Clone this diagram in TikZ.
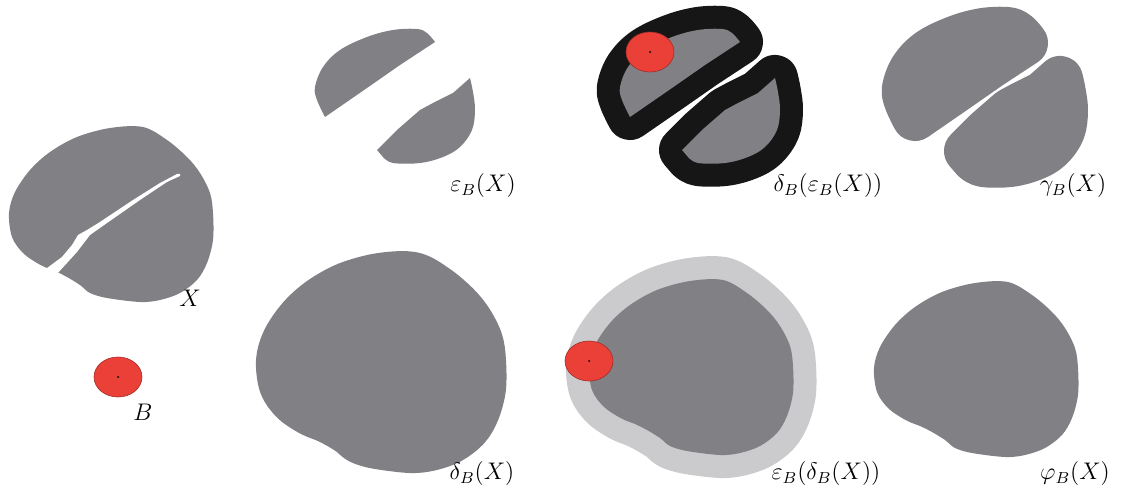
\documentclass[tikz,border=0pt]{standalone}
\usetikzlibrary{positioning}

\definecolor{setgray}{RGB}{128,128,133}
\definecolor{ringgray}{RGB}{203,203,205}
\definecolor{probered}{RGB}{234,64,56}
\definecolor{ringblack}{RGB}{22,22,22}

% the set X (outline only, crack drawn on top)
\newcommand\blobX{plot[smooth cycle, tension=0.55] coordinates {(143,127) (167,140) (187,157) (200,173) (210,193) (213,213) (213,240) (207,263) (197,280) (180,293) (160,300) (140,302) (107,298) (90,293) (80,285) (67,277) (55,271) (47,268) (37,263) (23,253) (12,237) (9,213) (15,192) (30,170) (50,152) (77,137) (110,128)}}
\newcommand\crackX{(43,271) -- (62,257) -- (72,245) -- (78,235) -- (87,230) -- (100,222) -- (133,200) -- (160,183) -- (177,174) -- (180,174) -- (180,176) -- (167,182) -- (140,200) -- (107,223) -- (90,235) -- (77,252) -- (67,263) -- (57,274) -- cycle}
% the two pieces left after erosion
\newcommand\pieceA{plot[smooth, tension=0.6] coordinates {(325,117) (317,100) (315,87) (323,67) (340,50) (367,37) (393,30) (417,29) (427,33) (435,42)} -- (400,65) -- (367,88) -- cycle}
\newcommand\pieceB{plot[smooth, tension=0.6] coordinates {(470,78) (473,92) (475,110) (472,130) (460,147) (443,157) (420,163) (393,163) (383,157)} -- (377,150) -- (397,130) -- (420,110) -- (433,103) -- (453,93) -- cycle}

\begin{document}
\begin{tikzpicture}[
    x=0.5pt, y=-0.5pt,
    swell/.style={line width=23pt, line join=round},
    probe/.style={fill=probered, draw=probered!70!black, line width=0.3pt,
                  x radius=12pt, y radius=10pt},
    lbl/.style={font=\large, inner sep=0pt},
]
\useasboundingbox (0,0) rectangle (1121,492);

% X and B
\fill[setgray] \blobX;
\fill[white] \crackX;
\node[lbl] (lblX) at (190,298) {$X$};
\filldraw[probe] (118,377) ellipse [];
\fill (118,377) circle[radius=0.5pt];
\node[lbl] (lblB) at (143,412) {$B$};

% erosion
\fill[setgray] \pieceA;
\fill[setgray] \pieceB;
\node[lbl] (lblEro) at (483,186) {$\varepsilon_B(X)$};

% dilation of the erosion
\begin{scope}[shift={(305,0)}]
  \draw[swell, ringblack, fill=ringblack] \pieceA;
  \draw[swell, ringblack, fill=ringblack] \pieceB;
  \fill[setgray] \pieceA;
  \fill[setgray] \pieceB;
\end{scope}
\filldraw[probe] (650,52) ellipse [];
\fill (650,52) circle[radius=0.5pt];
\node[lbl] (lblDilEro) at (828,186) {$\delta_B\bigl(\varepsilon_B(X)\bigr)$};

% opening
\begin{scope}[shift={(590,1)}]
  \draw[swell, setgray, fill=setgray] \pieceA;
  \draw[swell, setgray, fill=setgray] \pieceB;
\end{scope}
\node[lbl] (lblOpen) at (1073,186) {$\gamma_B(X)$};

% dilation
\begin{scope}[shift={(270,148)}]
  \draw[swell, setgray, fill=setgray] \blobX;
\end{scope}
\node[lbl] (lblDil) at (482,474) {$\delta_B(X)$};

% erosion of the dilation
\begin{scope}[shift={(580,153)}]
  \draw[swell, ringgray, fill=ringgray] \blobX;
  \fill[setgray] \blobX;
\end{scope}
\filldraw[probe] (589,361) ellipse [];
\fill (589,361) circle[radius=0.5pt];
\node[lbl] (lblEroDil) at (826,474) {$\varepsilon_B\bigl(\delta_B(X)\bigr)$};

% closing
\begin{scope}[shift={(865,155)}]
  \fill[setgray] \blobX;
\end{scope}
\node[lbl] (lblClose) at (1075,474) {$\varphi_B(X)$};
\end{tikzpicture}
\end{document}
